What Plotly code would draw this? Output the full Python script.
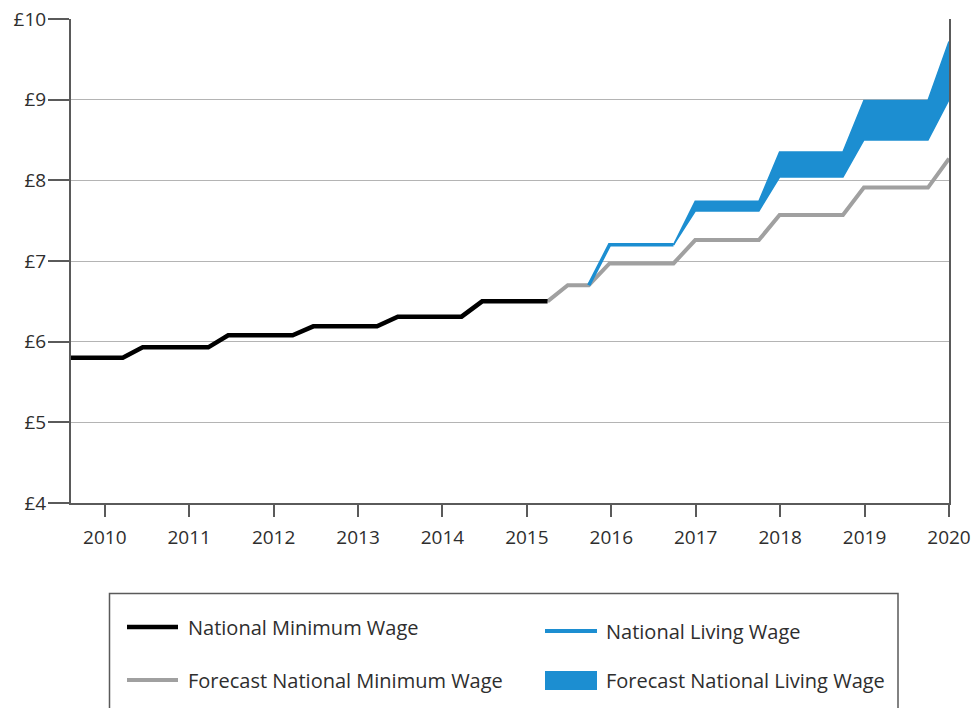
import plotly.graph_objects as go

# ---------------- data ----------------
years = [2010, 2011, 2012, 2013, 2014, 2015, 2016, 2017, 2018, 2019, 2020]
year_labels = [str(y) for y in years]
wage_ticks = [4, 5, 6, 7, 8, 9, 10]
wage_labels = ["£4", "£5", "£6", "£7", "£8", "£9", "£10"]

nmw_x = [2009.6, 2010.213, 2010.449, 2011.226, 2011.462, 2012.225, 2012.470,
         2013.225, 2013.471, 2014.226, 2014.470, 2015.245]
nmw_y = [5.80, 5.80, 5.93, 5.93, 6.08, 6.08, 6.19, 6.19, 6.31, 6.31, 6.50, 6.50]

fnmw_x = [2015.245, 2015.484, 2015.733, 2015.979, 2016.737, 2016.994, 2017.748,
          2017.993, 2018.744, 2018.992, 2019.751, 2020.0]
fnmw_y = [6.50, 6.70, 6.70, 6.97, 6.97, 7.26, 7.26, 7.57, 7.57, 7.91, 7.91, 8.27]

nlw_x = [2015.733, 2015.979, 2016.737]
nlw_y = [6.70, 7.20, 7.20]

fnlw_x = [2016.737, 2016.994, 2017.748, 2017.993, 2018.744, 2018.992, 2019.751, 2020.0]
fnlw_upper = [7.20, 7.74, 7.74, 8.35, 8.35, 8.99, 8.99, 9.72]
fnlw_lower = [7.20, 7.62, 7.62, 8.04, 8.04, 8.50, 8.50, 9.00]

names = ["National Minimum Wage", "National Living Wage",
         "Forecast National Minimum Wage", "Forecast National Living Wage"]

# ---------------- style ----------------
BLACK = "#000000"
GREY = "#a0a0a0"
BLUE = "#1c8ed1"
TEXT = "#2e2e2e"
AXIS = "#5a5a5a"
GRID = "#b4b4b4"
FONT = "Open Sans"

# the page's body margin is removed by a post script, so the figure fills the window
OFF = 0
W, H = 978, 708
ML, MT = 71, 19
PW, PH = 878, 484
MR = W - ML - PW
MB = H - MT - PH

fig = go.Figure()

# forecast NLW band (upper and lower edges, filled between)
fig.add_trace(go.Scatter(x=fnlw_x, y=fnlw_lower, mode="lines",
                         line=dict(color=BLUE, width=1.5), showlegend=False,
                         hoverinfo="skip"))
fig.add_trace(go.Scatter(x=fnlw_x, y=fnlw_upper, mode="lines", fill="tonexty",
                         fillcolor=BLUE, line=dict(color=BLUE, width=1.5),
                         name=names[3], showlegend=False))
fig.add_trace(go.Scatter(x=fnmw_x, y=fnmw_y, mode="lines",
                         line=dict(color=GREY, width=4), name=names[2],
                         showlegend=False))
fig.add_trace(go.Scatter(x=nlw_x, y=nlw_y, mode="lines",
                         line=dict(color=BLUE, width=3.5), name=names[1],
                         showlegend=False))
fig.add_trace(go.Scatter(x=nmw_x, y=nmw_y, mode="lines",
                         line=dict(color=BLACK, width=4.5), name=names[0],
                         showlegend=False))


# ---------------- custom legend box (layout decoration) ----------------
def px(x):
    return (x - OFF - ML) / PW


def py(y):
    return (MT + PH - (y - OFF)) / PH


shapes = [
    dict(type="rect", xref="paper", yref="paper", x0=px(109.5), x1=px(898),
         y0=py(725), y1=py(593.5), line=dict(color=AXIS, width=1.5),
         fillcolor="rgba(0,0,0,0)", layer="above"),
    dict(type="line", xref="paper", yref="paper", x0=px(127), x1=px(178),
         y0=py(627), y1=py(627), line=dict(color=BLACK, width=4.5)),
    dict(type="line", xref="paper", yref="paper", x0=px(545), x1=px(597),
         y0=py(631), y1=py(631), line=dict(color=BLUE, width=4)),
    dict(type="line", xref="paper", yref="paper", x0=px(127), x1=px(178),
         y0=py(680), y1=py(680), line=dict(color=GREY, width=4)),
    dict(type="rect", xref="paper", yref="paper", x0=px(545), x1=px(597),
         y0=py(690), y1=py(671), line=dict(width=0), fillcolor=BLUE),
]
annotations = []
for name, (lx, ly) in zip(names, [(186, 627), (604, 631), (186, 680), (604, 680)]):
    annotations.append(dict(text=name, xref="paper", yref="paper", x=px(lx),
                            y=py(ly), xanchor="left", yanchor="middle",
                            showarrow=False,
                            font=dict(family=FONT, size=20, color=TEXT)))

fig.update_layout(
    width=W, height=H,
    margin=dict(l=ML, r=MR, t=MT, b=MB, pad=0, autoexpand=False),
    paper_bgcolor="white", plot_bgcolor="white",
    font=dict(family=FONT, size=19, color=TEXT),
    showlegend=False,
    hovermode=False,
    shapes=shapes,
    annotations=annotations,
    xaxis=dict(range=[2009.6, 2020], tickmode="array", tickvals=years,
               ticktext=year_labels, ticks="outside", ticklen=12, tickwidth=2,
               tickcolor=AXIS, showline=True, linecolor=AXIS, linewidth=2,
               showgrid=False, zeroline=False, ticklabelstandoff=4,
               automargin=False, ticklabeloverflow="allow",
               tickfont=dict(family=FONT, size=19, color=TEXT)),
    yaxis=dict(range=[4, 10], tickmode="array", tickvals=wage_ticks,
               ticktext=wage_labels, ticks="outside", ticklen=21, tickwidth=1.5,
               tickcolor=AXIS, showline=True, linecolor=AXIS, linewidth=2,
               mirror=True, showgrid=True, gridcolor=GRID, gridwidth=1.2,
               zeroline=False, ticklabelstandoff=-2, automargin=False,
               ticklabeloverflow="allow",
               tickfont=dict(family=FONT, size=19, color=TEXT)),
)

fig.write_html(
    "out.html",
    config={"displayModeBar": False},
    post_script="document.body.style.margin='0';document.body.style.overflow='hidden';",
)
